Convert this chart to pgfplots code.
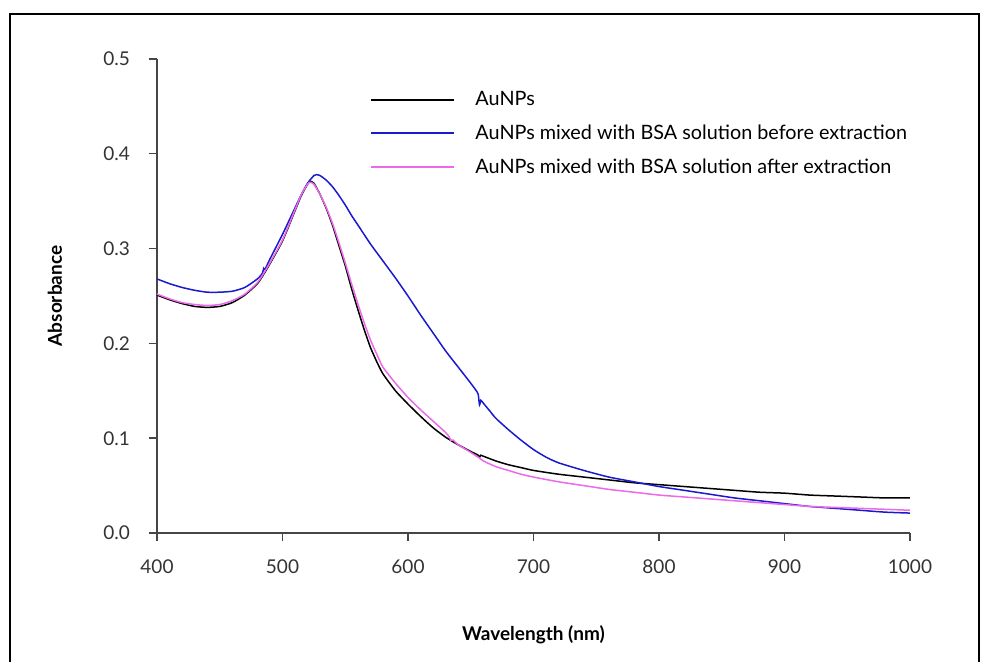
\documentclass[border=0pt]{standalone}
\usepackage{pgfplots}
\pgfplotsset{compat=1.18}
\usepackage{fontspec}
\setmainfont{Lato}

\definecolor{aublue}{RGB}{25,25,205}
\definecolor{aupink}{RGB}{235,105,235}
\definecolor{axgray}{RGB}{70,70,70}

\pgfplotstableread{
x y
400 0.251
410 0.246
420 0.242
430 0.239
440 0.238
450 0.239
460 0.243
470 0.251
480 0.263
486 0.275
490 0.284
500 0.308
510 0.340
515 0.356
520 0.368
522 0.371
525 0.369
530 0.357
535 0.342
540 0.324
545 0.303
550 0.282
555 0.258
560 0.236
565 0.215
570 0.196
575 0.181
580 0.168
590 0.150
600 0.136
610 0.123
620 0.111
630 0.101
640 0.093
650 0.086
656 0.082
657 0.080
658 0.082
660 0.081
670 0.076
680 0.072
690 0.069
700 0.066
720 0.062
740 0.059
760 0.056
780 0.053
800 0.051
820 0.049
840 0.047
860 0.045
880 0.043
900 0.042
920 0.040
940 0.039
960 0.038
980 0.037
1000 0.037
}\aunps

\pgfplotstableread{
x y
400 0.268
410 0.263
420 0.259
430 0.256
440 0.254
450 0.254
460 0.255
470 0.259
480 0.268
484 0.274
485 0.279
486 0.278
490 0.289
500 0.315
510 0.343
515 0.357
520 0.369
525 0.377
527 0.378
530 0.377
535 0.372
540 0.365
545 0.356
550 0.346
555 0.335
560 0.325
565 0.315
570 0.305
575 0.296
580 0.287
590 0.269
600 0.250
610 0.230
620 0.211
630 0.192
640 0.175
650 0.158
655 0.149
656 0.146
657 0.135
658 0.140
660 0.137
665 0.129
670 0.121
680 0.109
690 0.098
700 0.088
710 0.080
720 0.074
740 0.066
760 0.059
780 0.054
800 0.049
820 0.045
840 0.041
860 0.037
880 0.034
900 0.031
920 0.028
940 0.026
960 0.024
980 0.022
1000 0.021
}\before

\pgfplotstableread{
x y
400 0.252
410 0.247
420 0.243
430 0.241
440 0.240
450 0.241
460 0.245
470 0.252
480 0.264
486 0.276
490 0.285
500 0.309
510 0.341
515 0.357
520 0.368
522 0.370
525 0.368
530 0.357
535 0.343
540 0.326
545 0.306
550 0.285
555 0.263
560 0.242
565 0.222
570 0.204
575 0.189
580 0.175
590 0.158
600 0.143
610 0.130
620 0.118
630 0.106
633 0.101
634 0.098
636 0.098
640 0.093
650 0.085
657 0.079
660 0.076
670 0.070
680 0.066
690 0.062
700 0.059
720 0.054
740 0.050
760 0.046
780 0.043
800 0.040
820 0.038
840 0.036
860 0.034
880 0.032
900 0.030
920 0.028
940 0.027
960 0.026
980 0.025
1000 0.024
}\after

\begin{document}
\begin{tikzpicture}
\path[use as bounding box] (0,0) rectangle (490.5pt,331pt);
\draw[line width=0.9pt, black] (5pt,-10pt) rectangle (489.5pt,324pt);
\begin{axis}[at={(78.5pt,64.5pt)}, anchor=south west,
             scale only axis, width=376.5pt, height=237pt,
             axis lines=left, axis line style={-, axgray, line width=0.7pt},
             xmin=400, xmax=1000, ymin=0, ymax=0.5,
             xtick={400,500,...,1000}, ytick={0,0.1,...,0.5},
             tick align=outside, major tick length=4pt,
             tick style={axgray, line width=0.7pt},
             every tick label/.append style={font=\fontsize{9.5}{11}\selectfont, text=black!80},
             xticklabel style={/pgf/number format/1000 sep={}, yshift=-6pt},
             yticklabel style={/pgf/number format/.cd, fixed, fixed zerofill, precision=1, /tikz/.cd, xshift=-6pt},
             /pgf/number format/assume math mode=true,
             xlabel={\textbf{Wavelength (nm)}}, ylabel={\textbf{Absorbance}},
             label style={font=\fontsize{9.5}{11}\selectfont},
             xlabel style={at={(axis description cs:0.5,0)}, anchor=center, yshift=-51pt},
             ylabel style={at={(axis description cs:0,0.5)}, anchor=center, yshift=51pt},
             legend cell align=left,
             legend style={at={(0.275,0.95)}, anchor=north west, draw=none, fill=none,
                           font=\fontsize{9.9}{11}\selectfont, row sep=4.2pt,
                           /tikz/every even column/.append style={column sep=0pt}},
             legend image code/.code={\draw[#1, line width=1pt] (0pt,0pt) -- (41.5pt,0pt);},
             every axis plot/.append style={line width=0.75pt, smooth, tension=0.35}]
\addplot[black] table[x=x, y=y] {\aunps};
\addlegendentry{\hspace{8pt}AuNPs}
\addplot[aublue] table[x=x, y=y] {\before};
\addlegendentry{\hspace{8pt}AuNPs mixed with BSA solution before extraction}
\addplot[aupink] table[x=x, y=y] {\after};
\addlegendentry{\hspace{8pt}AuNPs mixed with BSA solution after extraction}
\end{axis}
\end{tikzpicture}
\end{document}
